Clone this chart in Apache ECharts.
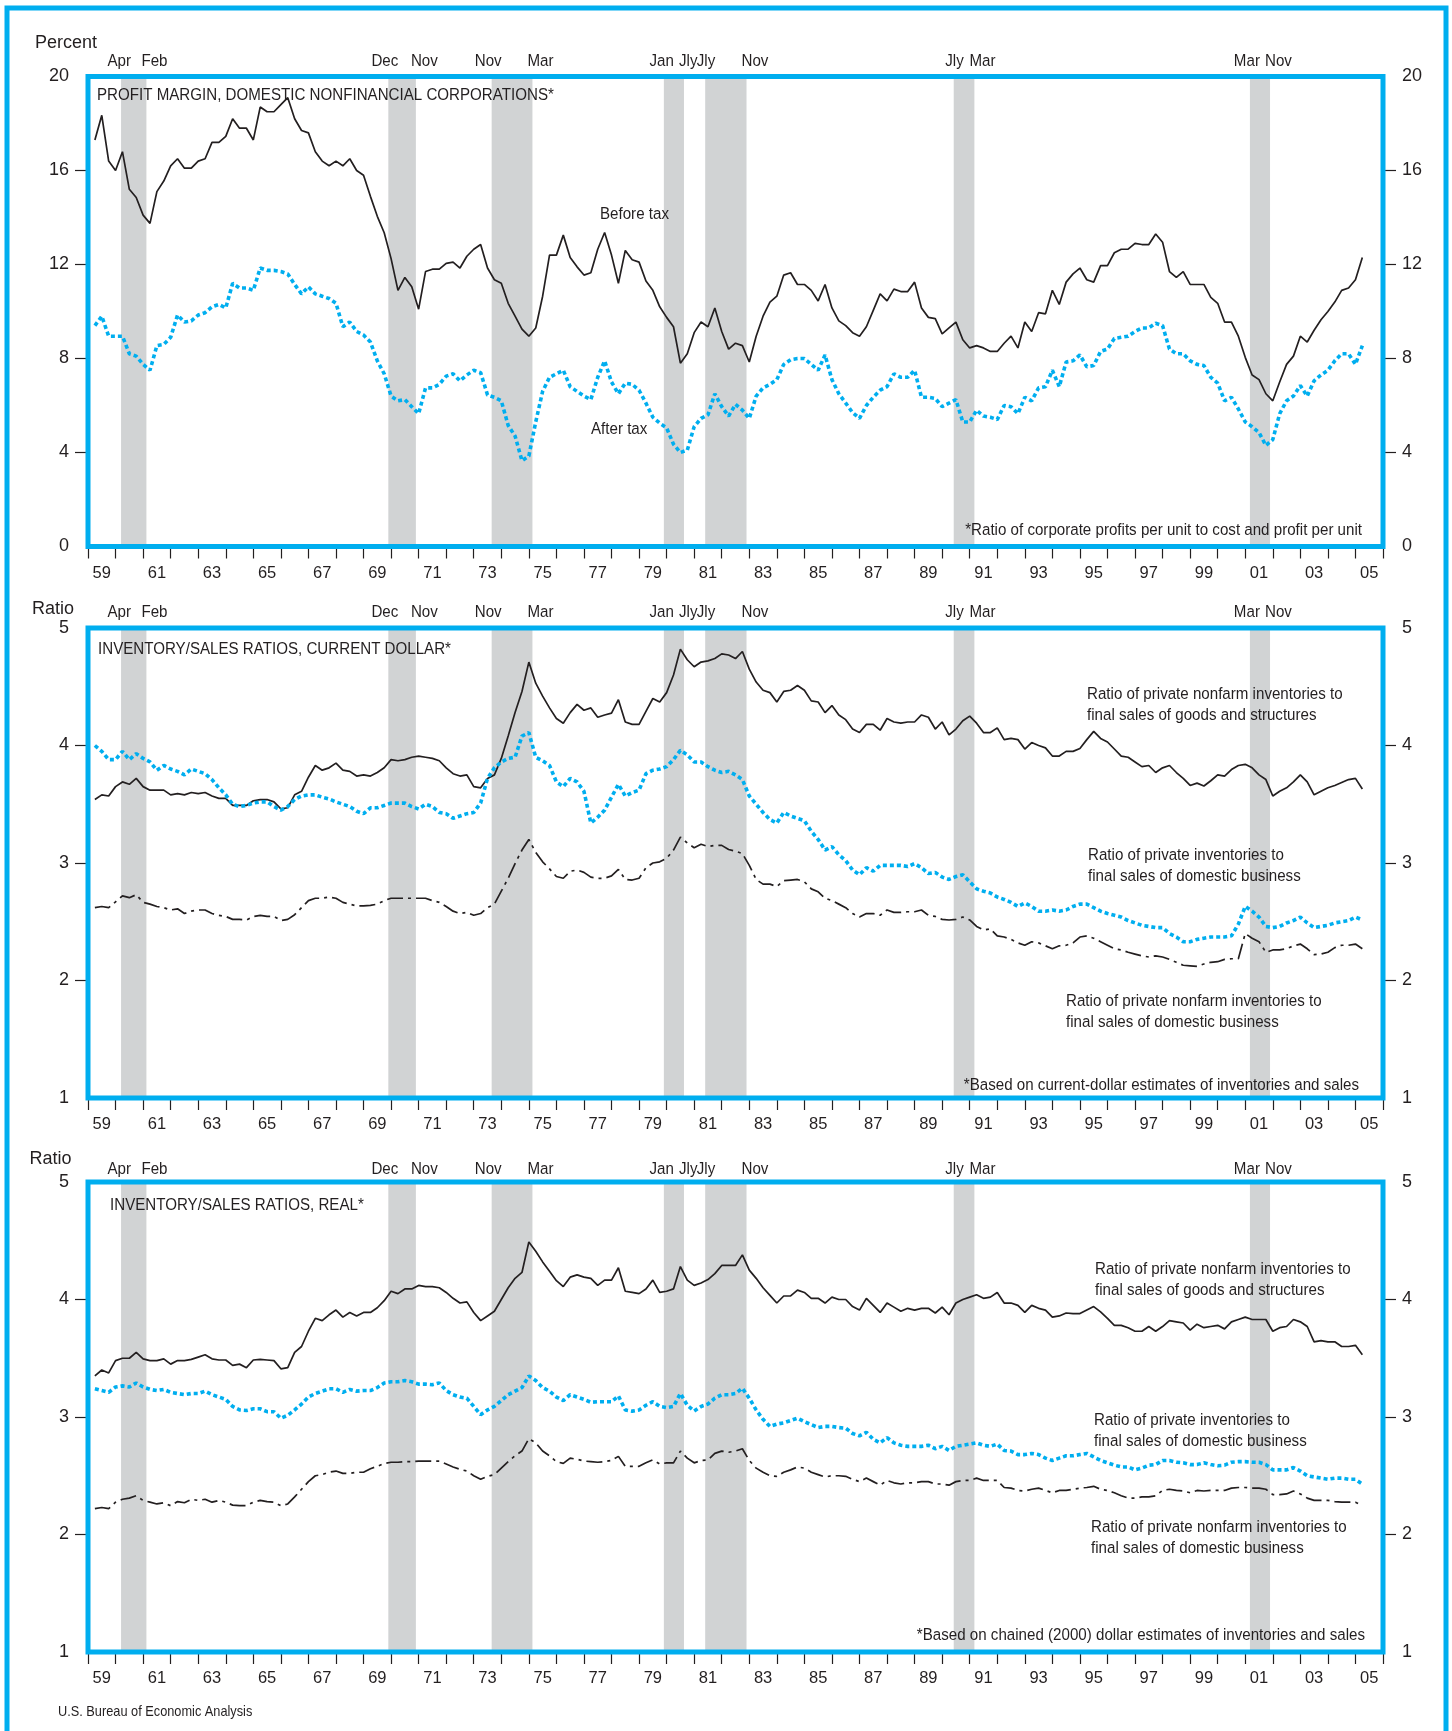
<!DOCTYPE html>
<html>
<head>
<meta charset="utf-8">
<script src="https://cdn.jsdelivr.net/npm/echarts@6.0.0/dist/echarts.min.js"></script>
<style>
html,body{margin:0;padding:0;background:#ffffff;}
#chart{width:1452px;height:1731px;}
</style>
</head>
<body>
<div id="chart"></div>
<script>
// ---------------- data ----------------
// Quarterly observations, first one plotted at 1959.25, one every quarter.
const firstObservation = 1959.25;
const observationStep = 0.25;

const yearLabels = ['59','60','61','62','63','64','65','66','67','68','69','70','71','72','73','74','75','76','77','78','79','80',
  '81','82','83','84','85','86','87','88','89','90','91','92','93','94','95','96','97','98','99','00','01','02','03','04','05'];

const percentTicks = [0, 4, 8, 12, 16, 20];
const ratioTicks = [1, 2, 3, 4, 5];

const recessionStart = [1960.2, 1969.9, 1973.65, 1979.9, 1981.4, 1990.42, 2001.17];
const recessionEnd   = [1961.12, 1970.9, 1975.13, 1980.63, 1982.9, 1991.17, 2001.9];
const recessionStartLabel = ['Apr', 'Dec', 'Nov', 'Jan', 'Jly', 'Jly', 'Mar'];
const recessionEndLabel   = ['Feb', 'Nov', 'Mar', 'Jly', 'Nov', 'Mar', 'Nov'];

const profitBeforeTax = [17.3,18.35,16.4,16.0,16.8,15.2,14.85,14.1,13.75,15.1,
15.55,16.2,16.5,16.1,16.1,16.4,16.5,17.2,17.2,17.45,
18.2,17.8,17.8,17.3,18.7,18.5,18.5,18.8,19.1,18.2,
17.7,17.6,16.8,16.4,16.2,16.4,16.2,16.5,16.0,15.8,
14.9,14.05,13.35,12.25,10.9,11.45,11.05,10.1,11.7,11.8,
11.8,12.05,12.1,11.85,12.35,12.65,12.85,11.85,11.35,11.2,
10.35,9.8,9.25,8.95,9.3,10.65,12.4,12.4,13.25,12.3,
11.9,11.55,11.65,12.65,13.36,12.4,11.2,12.6,12.2,12.1,
11.3,10.9,10.2,9.75,9.35,7.8,8.2,9.1,9.55,9.35,
10.15,9.15,8.4,8.65,8.55,7.85,8.95,9.8,10.4,10.65,
11.55,11.65,11.15,11.15,10.9,10.45,11.15,10.15,9.6,9.4,
9.1,8.95,9.35,10.05,10.75,10.45,10.95,10.85,10.85,11.25,
10.15,9.75,9.7,9.05,9.3,9.55,8.8,8.45,8.55,8.45,
8.3,8.3,8.65,8.95,8.45,9.55,9.15,9.95,9.9,10.9,
10.3,11.25,11.6,11.85,11.35,11.25,11.95,11.95,12.5,12.65,
12.65,12.9,12.85,12.85,13.3,12.95,11.7,11.45,11.7,11.15,
11.15,11.15,10.6,10.35,9.55,9.55,8.95,8.05,7.3,7.1,
6.5,6.2,7.0,7.75,8.1,8.95,8.7,9.2,9.65,10.0,
10.4,10.9,11.0,11.35,12.3];

const profitAfterTax = [9.4,9.8,8.95,8.95,8.95,8.2,8.1,7.75,7.5,8.55,
8.6,8.9,9.85,9.55,9.6,9.85,9.95,10.2,10.3,10.15,
11.2,11.0,11.0,10.9,11.85,11.75,11.75,11.7,11.6,11.15,
10.75,11.05,10.75,10.65,10.55,10.35,9.35,9.55,9.15,9.0,
8.7,7.9,7.35,6.4,6.2,6.25,5.95,5.65,6.75,6.75,
6.9,7.25,7.35,7.05,7.3,7.5,7.4,6.45,6.35,6.2,
5.15,4.7,3.65,3.85,5.3,6.6,7.2,7.35,7.5,6.8,
6.6,6.4,6.25,7.2,7.9,7.0,6.5,6.95,6.9,6.65,
6.1,5.5,5.25,5.05,4.35,4.0,4.1,5.1,5.45,5.6,
6.5,5.95,5.55,6.05,5.8,5.45,6.4,6.75,6.9,7.1,
7.75,7.95,8.0,8.0,7.75,7.5,8.15,7.1,6.5,6.1,
5.7,5.45,6.0,6.35,6.65,6.8,7.35,7.2,7.2,7.5,
6.35,6.35,6.3,5.95,6.1,6.25,5.3,5.3,5.8,5.55,
5.5,5.4,6.0,5.95,5.65,6.35,6.2,6.75,6.8,7.5,
6.8,7.85,7.9,8.15,7.65,7.7,8.3,8.4,8.85,8.9,
8.95,9.15,9.3,9.3,9.5,9.4,8.4,8.2,8.2,7.9,
7.75,7.7,7.2,6.95,6.2,6.35,5.85,5.3,5.1,4.85,
4.3,4.55,5.65,6.2,6.4,6.85,6.4,7.05,7.3,7.5,
7.9,8.2,8.2,7.75,8.55];

const currentGoods = [3.54,3.58,3.57,3.65,3.69,3.67,3.72,3.65,3.62,3.62,
3.62,3.58,3.59,3.58,3.60,3.59,3.60,3.57,3.55,3.55,
3.49,3.49,3.49,3.53,3.54,3.54,3.52,3.46,3.47,3.58,
3.61,3.73,3.83,3.79,3.81,3.85,3.79,3.78,3.74,3.75,
3.74,3.77,3.81,3.88,3.87,3.88,3.90,3.91,3.90,3.89,
3.87,3.81,3.76,3.74,3.75,3.65,3.64,3.72,3.75,3.89,
4.08,4.28,4.46,4.71,4.53,4.42,4.32,4.23,4.19,4.28,
4.35,4.30,4.32,4.24,4.26,4.275,4.39,4.20,4.18,4.18,
4.29,4.40,4.37,4.45,4.60,4.82,4.73,4.67,4.71,4.72,
4.74,4.78,4.77,4.74,4.80,4.65,4.54,4.47,4.45,4.37,
4.46,4.47,4.51,4.47,4.38,4.37,4.28,4.34,4.26,4.22,
4.14,4.11,4.18,4.18,4.13,4.23,4.20,4.19,4.20,4.20,
4.26,4.24,4.14,4.20,4.09,4.14,4.21,4.25,4.19,4.11,
4.11,4.15,4.05,4.06,4.05,3.97,4.025,4.00,3.98,3.91,
3.91,3.95,3.95,3.975,4.05,4.12,4.06,4.03,3.97,3.91,
3.90,3.86,3.82,3.83,3.77,3.81,3.83,3.77,3.72,3.66,
3.68,3.655,3.70,3.75,3.74,3.795,3.83,3.84,3.81,3.75,
3.71,3.57,3.61,3.64,3.69,3.75,3.69,3.58,3.61,3.64,
3.66,3.685,3.71,3.72,3.63];

const currentPrivate = [4.00,3.95,3.88,3.88,3.95,3.88,3.93,3.89,3.86,3.79,
3.83,3.80,3.78,3.75,3.80,3.78,3.76,3.71,3.64,3.58,
3.50,3.48,3.49,3.51,3.52,3.52,3.48,3.45,3.48,3.54,
3.57,3.58,3.58,3.56,3.545,3.52,3.50,3.48,3.44,3.42,
3.47,3.47,3.49,3.51,3.51,3.51,3.48,3.46,3.50,3.48,
3.43,3.42,3.38,3.40,3.42,3.43,3.51,3.72,3.81,3.86,
3.89,3.90,4.08,4.11,3.90,3.87,3.83,3.69,3.65,3.72,
3.69,3.61,3.34,3.39,3.45,3.56,3.67,3.57,3.60,3.62,
3.76,3.79,3.80,3.82,3.88,3.96,3.92,3.86,3.86,3.82,
3.79,3.77,3.78,3.75,3.71,3.57,3.50,3.43,3.37,3.34,
3.43,3.40,3.38,3.36,3.27,3.20,3.11,3.14,3.07,3.02,
2.94,2.90,2.96,2.93,2.98,2.98,2.98,2.98,2.97,2.995,
2.96,2.91,2.92,2.88,2.86,2.885,2.90,2.84,2.78,2.76,
2.745,2.71,2.69,2.665,2.63,2.66,2.63,2.59,2.59,2.60,
2.59,2.60,2.63,2.65,2.65,2.62,2.59,2.57,2.555,2.54,
2.51,2.49,2.47,2.46,2.45,2.45,2.40,2.37,2.33,2.33,
2.35,2.36,2.37,2.37,2.37,2.38,2.48,2.63,2.59,2.54,
2.46,2.45,2.46,2.49,2.51,2.54,2.49,2.45,2.46,2.47,
2.49,2.50,2.51,2.54,2.515];

const currentNonfarm = [2.62,2.63,2.62,2.67,2.72,2.705,2.73,2.665,2.65,2.63,
2.62,2.60,2.61,2.57,2.59,2.60,2.60,2.57,2.555,2.545,
2.52,2.52,2.515,2.545,2.555,2.545,2.545,2.51,2.52,2.56,
2.62,2.68,2.70,2.70,2.71,2.70,2.665,2.65,2.635,2.635,
2.64,2.65,2.68,2.70,2.70,2.70,2.70,2.70,2.70,2.68,
2.665,2.63,2.59,2.57,2.58,2.555,2.57,2.62,2.65,2.76,
2.87,2.995,3.11,3.20,3.09,3.01,2.95,2.885,2.87,2.93,
2.94,2.92,2.88,2.87,2.87,2.89,2.945,2.86,2.855,2.87,
2.96,3.00,3.01,3.04,3.11,3.22,3.17,3.13,3.16,3.14,
3.15,3.15,3.115,3.10,3.08,2.98,2.86,2.82,2.82,2.80,
2.85,2.855,2.86,2.84,2.78,2.755,2.70,2.68,2.65,2.62,
2.57,2.54,2.57,2.57,2.555,2.60,2.58,2.58,2.585,2.585,
2.60,2.555,2.545,2.52,2.515,2.52,2.54,2.515,2.46,2.43,
2.44,2.38,2.37,2.35,2.32,2.30,2.33,2.32,2.295,2.27,
2.295,2.30,2.32,2.37,2.38,2.36,2.33,2.30,2.27,2.26,
2.24,2.225,2.21,2.20,2.21,2.20,2.18,2.155,2.13,2.125,
2.12,2.14,2.155,2.16,2.18,2.185,2.185,2.40,2.36,2.33,
2.24,2.26,2.26,2.27,2.295,2.31,2.27,2.22,2.225,2.24,
2.28,2.30,2.30,2.31,2.27];

const realGoods = [3.35,3.40,3.375,3.48,3.50,3.50,3.55,3.495,3.48,3.48,
3.495,3.45,3.48,3.48,3.49,3.51,3.53,3.495,3.485,3.485,
3.44,3.45,3.42,3.485,3.49,3.485,3.48,3.41,3.42,3.55,
3.60,3.73,3.84,3.82,3.87,3.91,3.85,3.89,3.86,3.89,
3.89,3.93,3.99,4.07,4.05,4.09,4.09,4.12,4.11,4.11,
4.10,4.06,4.01,3.97,3.98,3.89,3.82,3.86,3.90,4.00,
4.10,4.18,4.23,4.49,4.41,4.32,4.24,4.16,4.11,4.19,
4.21,4.19,4.18,4.12,4.165,4.165,4.27,4.07,4.06,4.05,
4.09,4.165,4.06,4.07,4.09,4.28,4.165,4.12,4.14,4.17,
4.22,4.29,4.29,4.29,4.38,4.25,4.18,4.10,4.035,3.97,
4.03,4.03,4.08,4.06,4.01,4.01,3.97,4.02,4.00,4.00,
3.94,3.91,4.01,3.95,3.89,3.97,3.935,3.90,3.925,3.91,
3.925,3.925,3.885,3.935,3.87,3.97,4.00,4.02,4.04,4.01,
4.02,4.06,3.97,3.97,3.95,3.89,3.95,3.925,3.91,3.85,
3.86,3.885,3.88,3.88,3.91,3.94,3.895,3.84,3.78,3.78,
3.76,3.73,3.73,3.77,3.73,3.77,3.82,3.81,3.80,3.74,
3.79,3.76,3.77,3.78,3.75,3.81,3.83,3.85,3.83,3.83,
3.83,3.73,3.76,3.77,3.83,3.81,3.77,3.64,3.65,3.64,
3.64,3.60,3.60,3.61,3.53];

const realPrivate = [3.24,3.225,3.21,3.255,3.265,3.255,3.29,3.255,3.235,3.225,
3.235,3.21,3.20,3.19,3.20,3.20,3.22,3.19,3.17,3.15,
3.09,3.06,3.055,3.07,3.07,3.045,3.045,2.99,3.015,3.06,
3.11,3.17,3.20,3.22,3.24,3.24,3.21,3.235,3.22,3.225,
3.225,3.25,3.29,3.30,3.30,3.31,3.30,3.28,3.28,3.275,
3.29,3.225,3.19,3.17,3.16,3.09,3.02,3.06,3.09,3.14,
3.19,3.22,3.25,3.35,3.31,3.25,3.22,3.17,3.14,3.19,
3.17,3.15,3.125,3.13,3.13,3.13,3.18,3.06,3.05,3.06,
3.10,3.13,3.09,3.08,3.09,3.20,3.10,3.05,3.09,3.11,
3.16,3.19,3.19,3.20,3.245,3.16,3.06,2.98,2.92,2.94,
2.95,2.97,2.99,2.96,2.935,2.91,2.92,2.92,2.91,2.905,
2.86,2.84,2.87,2.81,2.78,2.825,2.78,2.76,2.75,2.75,
2.75,2.76,2.73,2.75,2.715,2.75,2.76,2.77,2.78,2.76,
2.75,2.77,2.715,2.71,2.68,2.68,2.69,2.68,2.65,2.63,
2.65,2.67,2.67,2.68,2.69,2.66,2.63,2.61,2.59,2.575,
2.575,2.55,2.565,2.59,2.595,2.63,2.63,2.615,2.61,2.595,
2.595,2.61,2.595,2.585,2.59,2.615,2.62,2.62,2.615,2.615,
2.595,2.55,2.55,2.55,2.57,2.54,2.50,2.49,2.48,2.47,
2.48,2.48,2.47,2.47,2.43];

const realNonfarm = [2.22,2.23,2.22,2.275,2.30,2.31,2.33,2.29,2.275,2.26,
2.27,2.245,2.28,2.27,2.30,2.29,2.30,2.275,2.29,2.275,
2.25,2.245,2.245,2.275,2.29,2.28,2.275,2.245,2.26,2.32,
2.385,2.45,2.50,2.51,2.53,2.54,2.52,2.52,2.53,2.53,
2.56,2.58,2.605,2.615,2.615,2.62,2.62,2.625,2.625,2.625,
2.625,2.60,2.575,2.555,2.54,2.50,2.47,2.495,2.51,2.565,
2.62,2.67,2.71,2.815,2.78,2.71,2.67,2.62,2.605,2.65,
2.64,2.625,2.62,2.615,2.62,2.63,2.665,2.58,2.58,2.58,
2.61,2.635,2.60,2.61,2.61,2.71,2.65,2.61,2.63,2.635,
2.69,2.71,2.70,2.71,2.73,2.63,2.565,2.53,2.50,2.495,
2.53,2.55,2.575,2.565,2.53,2.51,2.49,2.50,2.50,2.495,
2.47,2.45,2.48,2.45,2.42,2.46,2.44,2.43,2.44,2.44,
2.45,2.45,2.43,2.43,2.42,2.45,2.46,2.46,2.48,2.46,
2.46,2.46,2.40,2.395,2.375,2.37,2.385,2.395,2.375,2.355,
2.375,2.375,2.385,2.395,2.40,2.41,2.385,2.375,2.355,2.33,
2.31,2.31,2.32,2.32,2.33,2.375,2.385,2.375,2.37,2.355,
2.375,2.37,2.375,2.375,2.375,2.395,2.40,2.40,2.395,2.395,
2.385,2.34,2.34,2.345,2.37,2.345,2.31,2.29,2.29,2.29,
2.28,2.275,2.275,2.275,2.245];

// ---------------- styling / layout ----------------
const CYAN = '#00AEEF', INK = '#231F20', SHADE = '#D1D3D4';
const SANS = "'Liberation Sans',Arial,Helvetica,sans-serif";
const CONDENSE = 0.88;           // horizontal squeeze giving a condensed-Helvetica look
const GRID_LEFT = 88, GRID_WIDTH = 1295, GRID_HEIGHT = 470;

const lineStyles = {
  solid:   { color: INK,  width: 1.7, type: 'solid' },
  dotted:  { color: CYAN, width: 3.6, type: [4, 3] },
  dashdot: { color: INK,  width: 1.7, type: [16, 5, 3, 5] }
};

const panels = [
  { top: 76.5, ticks: percentTicks, name: 'Percent', nameGap: 33, namePad: 44, monthGap: 15,
    lines: [ { values: profitBeforeTax, style: 'solid', name: 'Before tax' },
             { values: profitAfterTax, style: 'dotted', name: 'After tax' } ] },
  { top: 628, ticks: ratioTicks, name: 'Ratio', nameGap: 19, namePad: 70, monthGap: 16,
    lines: [ { values: currentGoods, style: 'solid', name: 'Nonfarm / goods and structures' },
             { values: currentPrivate, style: 'dotted', name: 'Private / domestic business' },
             { values: currentNonfarm, style: 'dashdot', name: 'Nonfarm / domestic business' } ] },
  { top: 1182, ticks: ratioTicks, name: 'Ratio', nameGap: 23, namePad: 75, monthGap: 13,
    lines: [ { values: realGoods, style: 'solid', name: 'Nonfarm / goods and structures' },
             { values: realPrivate, style: 'dotted', name: 'Private / domestic business' },
             { values: realNonfarm, style: 'dashdot', name: 'Nonfarm / domestic business' } ] }
];

function toPoints(values) {
  return values.map((v, i) => [firstObservation + observationStep * i, v]);
}

const grid = [], xAxis = [], yAxis = [], series = [];

panels.forEach((p, i) => {
  const yMin = p.ticks[0], yMax = p.ticks[p.ticks.length - 1];
  const yStep = p.ticks[1] - p.ticks[0];
  const innerTicks = p.ticks.slice(1, -1);
  grid.push({ left: GRID_LEFT, top: p.top, width: GRID_WIDTH, height: GRID_HEIGHT, containLabel: false });

  xAxis.push({ gridIndex: i, type: 'value', min: 1959, max: 2006, show: false });
  xAxis.push({
    gridIndex: i, type: 'category', data: yearLabels, position: 'bottom', boundaryGap: true,
    axisLine: { show: false },
    axisTick: { show: true, interval: 0, length: 12, lineStyle: { color: INK, width: 1.2 } },
    axisLabel: { interval: 1, margin: 18, color: INK, fontFamily: SANS, fontSize: 16.5 },
    splitLine: { show: false }
  });

  const yCommon = {
    gridIndex: i, type: 'value', min: yMin, max: yMax, interval: yStep,
    axisLine: { show: false },
    axisTick: { show: true, length: 13, customValues: innerTicks, lineStyle: { color: INK, width: 1.2 } },
    axisLabel: { margin: 19, color: INK, fontFamily: SANS, fontSize: 18, customValues: p.ticks },
    splitLine: { show: false }
  };
  yAxis.push(Object.assign({}, yCommon, {
    position: 'left', name: p.name, nameLocation: 'end', nameGap: p.nameGap,
    nameTextStyle: { color: INK, fontFamily: SANS, fontSize: 18, align: 'center', verticalAlign: 'middle', padding: [0, p.namePad, 0, 0] }
  }));
  yAxis.push(Object.assign({}, yCommon, { position: 'right' }));

  const xi = 2 * i, yi = 2 * i;

  series.push({
    type: 'line', xAxisIndex: xi, yAxisIndex: yi, data: [], silent: true, z: 1,
    markArea: {
      silent: true, itemStyle: { color: SHADE },
      data: recessionStart.map((s, j) => [{ xAxis: s }, { xAxis: recessionEnd[j] }])
    }
  });

  p.lines.forEach(l => {
    series.push({
      type: 'line', name: l.name, xAxisIndex: xi, yAxisIndex: yi, data: toPoints(l.values),
      symbol: 'none', showSymbol: false, silent: true, z: 3,
      lineStyle: lineStyles[l.style]
    });
  });
});

// ---------------- annotations ----------------
const notes = [
  { x: 97,   y: 95,    t: 'PROFIT MARGIN, DOMESTIC NONFINANCIAL CORPORATIONS*' },
  { x: 600,  y: 214,   t: 'Before tax' },
  { x: 591,  y: 429,   t: 'After tax' },
  { x: 1362, y: 530,   t: '*Ratio of corporate profits per unit to cost and profit per unit', align: 'right' },
  { x: 98,   y: 649.5, t: 'INVENTORY/SALES RATIOS, CURRENT DOLLAR*' },
  { x: 1087, y: 704.5, t: 'Ratio of private nonfarm inventories to\nfinal sales of goods and structures' },
  { x: 1088, y: 865.5, t: 'Ratio of private inventories to\nfinal sales of domestic business' },
  { x: 1066, y: 1011.5, t: 'Ratio of private nonfarm inventories to\nfinal sales of domestic business' },
  { x: 1359, y: 1085,  t: '*Based on current-dollar estimates of inventories and sales', align: 'right' },
  { x: 110,  y: 1205,  t: 'INVENTORY/SALES RATIOS, REAL*' },
  { x: 1095, y: 1279.5, t: 'Ratio of private nonfarm inventories to\nfinal sales of goods and structures' },
  { x: 1094, y: 1430.5, t: 'Ratio of private inventories to\nfinal sales of domestic business' },
  { x: 1091, y: 1537.5, t: 'Ratio of private nonfarm inventories to\nfinal sales of domestic business' },
  { x: 1365, y: 1635,  t: '*Based on chained (2000) dollar estimates of inventories and sales', align: 'right' },
  { x: 58,   y: 1712,  t: 'U.S. Bureau of Economic Analysis', size: 14.5 }
];

function textEl(x, y, text, align, size) {
  return { type: 'text', z: 50, silent: true, x: x, y: y, scaleX: CONDENSE, scaleY: 1,
    style: { text: text, fill: INK, fontFamily: SANS, fontSize: size, lineHeight: 21,
      align: align, textAlign: align, verticalAlign: 'middle', textVerticalAlign: 'middle' } };
}

const graphic = [];
graphic.push({ type: 'rect', z: 100, silent: true, shape: { x: 7, y: 8, width: 1439, height: 1760 },
  style: { fill: 'none', stroke: CYAN, lineWidth: 5 } });
panels.forEach(p => {
  graphic.push({ type: 'rect', z: 100, silent: true,
    shape: { x: GRID_LEFT, y: p.top, width: GRID_WIDTH, height: GRID_HEIGHT },
    style: { fill: 'none', stroke: CYAN, lineWidth: 5 } });
});
notes.forEach(n => graphic.push(textEl(n.x, n.y, n.t, n.align || 'left', n.size || 17.2)));

const chart = echarts.init(document.getElementById('chart'), null, { renderer: 'canvas' });
chart.setOption({ animation: false, backgroundColor: '#ffffff', grid, xAxis, yAxis, series, graphic });

// recession month labels, placed through each panel's own x scale
panels.forEach((p, i) => {
  recessionStart.forEach((s, j) => {
    const px = chart.convertToPixel({ xAxisIndex: 2 * i }, s);
    graphic.push(textEl(px + 10, p.top - p.monthGap, recessionStartLabel[j], 'right', 17.2));
  });
  recessionEnd.forEach((e, j) => {
    const px = chart.convertToPixel({ xAxisIndex: 2 * i }, e);
    graphic.push(textEl(px - 5, p.top - p.monthGap, recessionEndLabel[j], 'left', 17.2));
  });
});
chart.setOption({ graphic: graphic });
</script>
</body>
</html>
